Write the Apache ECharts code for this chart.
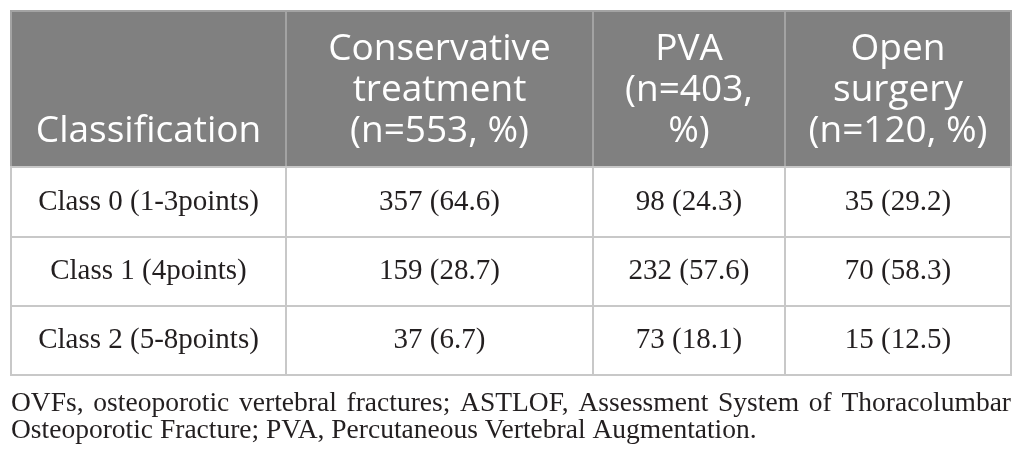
<!DOCTYPE html>
<html>
<head>
<meta charset="utf-8">
<title>ASTLOF classification by treatment</title>
<script src="https://cdn.jsdelivr.net/npm/echarts@6.0.0/dist/echarts.min.js"></script>
<style>
    html, body { margin: 0; padding: 0; background: #fff; }
    #tableChart { width: 1026px; height: 464px; }
</style>
</head>
<body>
<div id="tableChart"></div>
<script>

/*表格数据*/
var firstHeader = 'Classification';
var groupHeaders = ['Conservative\ntreatment\n(n=553, %)', 'PVA\n(n=403,\n%)', 'Open\nsurgery\n(n=120, %)'];
var classes = ['Class 0 (1-3points)', 'Class 1 (4points)', 'Class 2 (5-8points)'];

var conservativeN = [357, 159, 37];
var conservativePct = [64.6, 28.7, 6.7];
var pvaN = [98, 232, 73];
var pvaPct = [24.3, 57.6, 18.1];
var openN = [35, 70, 15];
var openPct = [29.2, 58.3, 12.5];

var footnoteLines = [
    'OVFs, osteoporotic vertebral fractures; ASTLOF, Assessment System of Thoracolumbar',
    'Osteoporotic Fracture; PVA, Percutaneous Vertebral Augmentation.'
];

/*布局 (像素)*/
var colWidths = [275, 307, 192, 226];
var rowHeights = [156, 70, 69, 69];

var headFont = '37px "Open Sans"';
var bodyFont = '29px "Liberation Serif"';
var noteFont = '27.5px "Liberation Serif"';


function cumulative(list) {
    var out = [0];
    for (var i = 0; i < list.length; i++) {
        out.push(out[i] + list[i]);
    }
    return out;
}

function cellText(n, pct) {
    return n + ' (' + pct.toFixed(1) + ')';
}

/*组装单元格*/
function buildCells() {
    var xs = cumulative(colWidths);
    var ys = cumulative(rowHeights);
    var cells = [];
    var headers = [firstHeader].concat(groupHeaders);
    for (var c = 0; c < headers.length; c++) {
        cells.push({value: [xs[c], ys[0], xs[c + 1], ys[1]], text: headers[c], head: true});
    }
    for (var r = 0; r < classes.length; r++) {
        var row = [
            classes[r],
            cellText(conservativeN[r], conservativePct[r]),
            cellText(pvaN[r], pvaPct[r]),
            cellText(openN[r], openPct[r])
        ];
        for (var k = 0; k < row.length; k++) {
            cells.push({value: [xs[k], ys[r + 1], xs[k + 1], ys[r + 2]], text: row[k], head: false});
        }
    }
    return cells;
}

/*两端对齐的脚注*/
function justifiedLine(text, left, width, y, font) {
    var ctx = document.createElement('canvas').getContext('2d');
    ctx.font = font;
    var words = text.split(' ');
    var widths = words.map(function (w) { return ctx.measureText(w).width; });
    var total = widths.reduce(function (a, b) { return a + b; }, 0);
    var gap = (width - total) / (words.length - 1);
    var x = left;
    var els = [];
    for (var i = 0; i < words.length; i++) {
        els.push({
            type: 'text', x: x, y: y, silent: true,
            style: {text: words[i], font: font, fill: '#231f20', verticalAlign: 'middle'}
        });
        x += widths[i] + gap;
    }
    return els;
}

function loadTable() {
    var chart = echarts.init(document.getElementById('tableChart'), null, {renderer: 'canvas'});
    var cells = buildCells();
    var totalW = cumulative(colWidths)[colWidths.length];
    var totalH = cumulative(rowHeights)[rowHeights.length];

    var graphics = justifiedLine(footnoteLines[0], 11, 1000, 404, noteFont);
    graphics.push({
        type: 'text', x: 11, y: 431, silent: true,
        style: {text: footnoteLines[1], font: noteFont, fill: '#231f20', verticalAlign: 'middle'}
    });

    var option = {
        animation: false,
        grid: {left: 11, top: 11, width: 1000, height: 364},
        xAxis: {type: 'value', min: 0, max: totalW, show: false},
        yAxis: {type: 'value', min: 0, max: totalH, inverse: true, show: false},
        graphic: graphics,
        series: [
            {
                type: 'custom',
                clip: false,
                data: cells.map(function (c) { return c.value; }),
                renderItem: function (params, api) {
                    var cell = cells[params.dataIndex];
                    var p0 = api.coord([api.value(0), api.value(1)]);
                    var p1 = api.coord([api.value(2), api.value(3)]);
                    var w = p1[0] - p0[0];
                    var h = p1[1] - p0[1];
                    var label;
                    if (cell.head) {
                        label = {
                            type: 'text', x: p0[0] + w / 2, y: p1[1] - 15,
                            style: {
                                text: cell.text, font: headFont, fill: '#ffffff',
                                align: 'center', verticalAlign: 'bottom', lineHeight: 41
                            }
                        };
                    } else {
                        label = {
                            type: 'text', x: p0[0] + w / 2, y: p0[1] + h / 2,
                            style: {
                                text: cell.text, font: bodyFont, fill: '#231f20',
                                align: 'center', verticalAlign: 'middle'
                            }
                        };
                    }
                    return {
                        type: 'group',
                        children: [
                            {
                                type: 'rect',
                                shape: {x: p0[0], y: p0[1], width: w, height: h},
                                style: {
                                    fill: cell.head ? '#808080' : '#ffffff',
                                    stroke: cell.head ? '#a3a3a3' : '#c8c8c8',
                                    lineWidth: 2
                                }
                            },
                            label
                        ]
                    };
                }
            }
        ]
    };

    chart.setOption(option);
}

loadTable();
</script>
</body>
</html>
